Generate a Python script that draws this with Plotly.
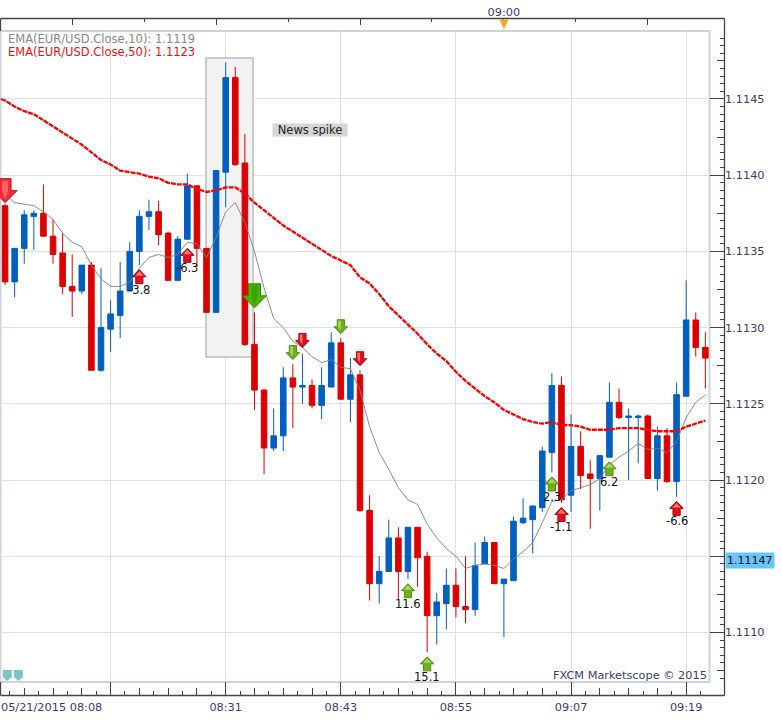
import plotly.graph_objects as go

WIDTH = 782
HEIGHT = 720

# one candle per minute, 0 is 08:08
minutes = list(range(74))

opens = [
    1.11380, 1.11330, 1.11352, 1.11373, 1.11375, 1.11360, 1.11349, 1.11327, 1.11324, 1.11341,
    1.11272, 1.11299, 1.11308, 1.11324, 1.11350, 1.11373, 1.11376, 1.11362, 1.11331, 1.11358,
    1.11393, 1.11352, 1.11310, 1.11402, 1.11464, 1.11408, 1.11289, 1.11259, 1.11221, 1.11229,
    1.11267, 1.11261, 1.11262, 1.11249, 1.11261, 1.11290, 1.11253, 1.11269, 1.11180, 1.11132,
    1.11140, 1.11162, 1.11140, 1.11169, 1.11150, 1.11111, 1.11119, 1.11131, 1.11117, 1.11115,
    1.11145, 1.11159, 1.11132, 1.11134, 1.11172, 1.11174, 1.11182, 1.11218, 1.11262, 1.11190,
    1.11222, 1.11204, 1.11201, 1.11215, 1.11251, 1.11241, 1.11241, 1.11242, 1.11201, 1.11229,
    1.11199, 1.11255, 1.11305, 1.11287,
]
highs = [
    1.11381, 1.11352, 1.11377, 1.11377, 1.11394, 1.11371, 1.11362, 1.11348, 1.11341, 1.11343,
    1.11339, 1.11318, 1.11343, 1.11356, 1.11377, 1.11384, 1.11383, 1.11363, 1.11360, 1.11401,
    1.11393, 1.11352, 1.11403, 1.11474, 1.11471, 1.11427, 1.11310, 1.11260, 1.11247, 1.11274,
    1.11276, 1.11283, 1.11266, 1.11274, 1.11297, 1.11293, 1.11280, 1.11272, 1.11190, 1.11150,
    1.11174, 1.11169, 1.11169, 1.11169, 1.11153, 1.11126, 1.11142, 1.11142, 1.11150, 1.11159,
    1.11163, 1.11159, 1.11135, 1.11176, 1.11188, 1.11183, 1.11222, 1.11270, 1.11268, 1.11243,
    1.11232, 1.11213, 1.11216, 1.11264, 1.11260, 1.11247, 1.11243, 1.11243, 1.11235, 1.11234,
    1.11264, 1.11331, 1.11310, 1.11297,
]
lows = [
    1.11328, 1.11320, 1.11342, 1.11351, 1.11360, 1.11342, 1.11322, 1.11307, 1.11322, 1.11272,
    1.11271, 1.11284, 1.11293, 1.11324, 1.11341, 1.11364, 1.11354, 1.11331, 1.11331, 1.11358,
    1.11340, 1.11310, 1.11310, 1.11379, 1.11406, 1.11288, 1.11246, 1.11204, 1.11219, 1.11219,
    1.11234, 1.11250, 1.11247, 1.11240, 1.11261, 1.11253, 1.11238, 1.11179, 1.11121, 1.11119,
    1.11140, 1.11121, 1.11135, 1.11130, 1.11087, 1.11092, 1.11102, 1.11110, 1.11106, 1.11111,
    1.11145, 1.11132, 1.11097, 1.11134, 1.11171, 1.11152, 1.11179, 1.11205, 1.11185, 1.11179,
    1.11194, 1.11168, 1.11180, 1.11215, 1.11240, 1.11200, 1.11211, 1.11201, 1.11193, 1.11198,
    1.11189, 1.11255, 1.11281, 1.11260,
]
closes = [
    1.11330, 1.11352, 1.11374, 1.11375, 1.11360, 1.11348, 1.11327, 1.11324, 1.11341, 1.11272,
    1.11300, 1.11309, 1.11324, 1.11350, 1.11373, 1.11376, 1.11361, 1.11331, 1.11358, 1.11393,
    1.11352, 1.11310, 1.11403, 1.11464, 1.11407, 1.11289, 1.11259, 1.11221, 1.11229, 1.11267,
    1.11261, 1.11262, 1.11249, 1.11262, 1.11290, 1.11253, 1.11269, 1.11180, 1.11132, 1.11140,
    1.11162, 1.11140, 1.11169, 1.11149, 1.11111, 1.11120, 1.11131, 1.11117, 1.11115, 1.11144,
    1.11159, 1.11132, 1.11135, 1.11173, 1.11175, 1.11183, 1.11219, 1.11262, 1.11187, 1.11222,
    1.11203, 1.11201, 1.11216, 1.11251, 1.11241, 1.11242, 1.11242, 1.11201, 1.11229, 1.11199,
    1.11256, 1.11305, 1.11287, 1.11280,
]

# EMA 50 has one extra point before the first candle, it runs off the left edge
ema50_x = [-1] + minutes
ema50 = [
    1.11451, 1.11449, 1.11445, 1.11442, 1.11440, 1.11436, 1.11432, 1.11428, 1.11424, 1.11420,
    1.11415, 1.11410, 1.11407, 1.11403, 1.11402, 1.11401, 1.11399, 1.11398, 1.11395, 1.11394,
    1.11394, 1.11391, 1.11389, 1.11390, 1.11392, 1.11392, 1.11388, 1.11382, 1.11377, 1.11372,
    1.11367, 1.11363, 1.11359, 1.11355, 1.11351, 1.11347, 1.11344, 1.11341, 1.11333, 1.11329,
    1.11322, 1.11314, 1.11308, 1.11302, 1.11296, 1.11289, 1.11283, 1.11278, 1.11271, 1.11265,
    1.11260, 1.11255, 1.11251, 1.11246, 1.11243, 1.11240, 1.11238, 1.11237, 1.11238, 1.11236,
    1.11236, 1.11235, 1.11233, 1.11233, 1.11233, 1.11234, 1.11234, 1.11234, 1.11233, 1.11232,
    1.11232, 1.11232, 1.11235, 1.11237, 1.11239,
]
ema10 = [
    1.11387, 1.11382, 1.11381, 1.11380, 1.11376, 1.11371, 1.11362, 1.11356, 1.11353, 1.11341,
    1.11332, 1.11327, 1.11327, 1.11330, 1.11339, 1.11346, 1.11348, 1.11346, 1.11348, 1.11356,
    1.11355, 1.11346, 1.11359, 1.11376, 1.11382, 1.11369, 1.11350, 1.11326, 1.11306, 1.11300,
    1.11291, 1.11287, 1.11281, 1.11277, 1.11279, 1.11274, 1.11273, 1.11259, 1.11235, 1.11218,
    1.11207, 1.11195, 1.11187, 1.11184, 1.11171, 1.11162, 1.11155, 1.11150, 1.11142, 1.11144,
    1.11145, 1.11144, 1.11142, 1.11148, 1.11153, 1.11159, 1.11172, 1.11186, 1.11187, 1.11193,
    1.11195, 1.11197, 1.11201, 1.11210, 1.11215, 1.11219, 1.11224, 1.11220, 1.11221, 1.11218,
    1.11225, 1.11241, 1.11251, 1.11256,
]

# trade arrows: candle, price at the tip, direction, colour, size, text under the tail
signal_x = [0, 26, 14, 19, 30, 31, 35, 37, 42, 44, 57, 58, 63, 70]
signal_price = [
    1.11382, 1.11313, 1.11338, 1.11352, 1.11279, 1.11287, 1.11296,
    1.11275, 1.11132, 1.11084, 1.11202, 1.11182, 1.11212, 1.11186,
]
signal_dir = ["down", "down", "up", "up", "down", "down", "down", "down", "up", "up", "up", "up", "up", "up"]
signal_col = ["red", "green", "red", "red", "green", "red", "green", "red", "green", "green", "green", "red", "green", "red"]
signal_big = [True, True] + [False] * 12
signal_text = ["", "", "-3.8", "-6.3", "", "", "", "", "11.6", "15.1", "2.3", "-1.1", "6.2", "-6.6"]

x_range = [-0.527, 73.38]
y_range = [1.110675, 1.114946]

major_x = [11, 23, 35, 47, 59, 71]
major_labels = ["", "08:31", "08:43", "08:55", "09:07", "09:19"]
top_x = [7, 22, 37, 52, 67]
top_labels = ["", "", "", "09:00", ""]
# 1.1115 has no text, the last price box sits over it
price_ticks = [1.1110, 1.1115, 1.1120, 1.1125, 1.1130, 1.1135, 1.1140, 1.1145]
price_labels = ["1.1110", "", "1.1120", "1.1125", "1.1130", "1.1135", "1.1140", "1.1145"]

BLUE = "#005FBF"
RED = "#DD0000"
INK = "#444444"
LABEL = "#3C3C70"
FONT = "DejaVu Sans"
# outline, body, inner part
COLOURS = {
    ("red", True): ("#D0101A", "#F02A34", "#F76468"),
    ("green", True): ("#2F8A00", "#4CB400", "#34A400"),
    ("red", False): ("#B8000C", "#DC1020", "#F07868"),
    ("green", False): ("#4F8F10", "#70B020", "#A6D860"),
}


def px(x):
    return x / WIDTH


def py(y):
    return 1 - y / HEIGHT


def arrow_shapes(x, price, direction, colour, big):
    """Block arrow as two pixel sized paths hanging off the tip position."""
    h, hw, sw, hh = (24, 12, 6, 12) if big else (14, 6.7, 3.6, 7)
    sign = -1 if direction == "up" else 1
    pts = [(0, 0), (hw, hh), (sw, hh), (sw, h), (-sw, h), (-sw, hh), (-hw, hh)]
    if big:
        inner = [(0, 3), (-sw + 3, hh), (-sw + 3, h - 2), (sw - 3, h - 2), (sw - 3, hh)]
    elif direction == "up":
        inner = [(0, 1.5), (-hw + 2.5, hh - 1), (hw - 2.5, hh - 1)]
    else:
        inner = [(0, 3), (-sw + 1, hh), (-sw + 1, h - 1), (0, h - 1)]
    edge, fill, shine = COLOURS[(colour, big)]
    shapes = []
    for poly, fc, lw in ((pts, fill, 1), (inner, shine, 0)):
        # path y runs upward from the anchor
        path = "M" + "L".join(f"{a},{sign * b}" for a, b in poly) + "Z"
        shapes.append(dict(
            type="path", path=path, xref="x", yref="y",
            xsizemode="pixel", ysizemode="pixel", xanchor=x, yanchor=price,
            fillcolor=fc, line=dict(color=edge, width=lw), layer="above",
        ))
    return shapes


fig = go.Figure()

fig.add_trace(go.Candlestick(
    x=minutes, open=opens, high=highs, low=lows, close=closes,
    increasing=dict(line=dict(color=BLUE, width=1), fillcolor=BLUE),
    decreasing=dict(line=dict(color=RED, width=1), fillcolor=RED),
    whiskerwidth=0, hoverinfo="skip", showlegend=False,
))
fig.add_trace(go.Scatter(
    x=minutes, y=ema10, mode="lines", line=dict(color="#808080", width=0.9),
    hoverinfo="skip", showlegend=False,
))
fig.add_trace(go.Scatter(
    x=ema50_x, y=ema50, mode="lines", line=dict(color="#FF0000", width=2.3, dash="5px,1px"),
    hoverinfo="skip", showlegend=False,
))
# empty traces so the extra tick axes get drawn
fig.add_trace(go.Scatter(x=[52], y=[1.112], xaxis="x2", mode="none", hoverinfo="skip", showlegend=False))
fig.add_trace(go.Scatter(x=[52], y=[1.112], xaxis="x3", mode="none", hoverinfo="skip", showlegend=False))
fig.add_trace(go.Scatter(x=[52], y=[1.112], yaxis="y2", mode="none", hoverinfo="skip", showlegend=False))

shapes = [
    # plot panel border
    dict(type="rect", xref="paper", yref="paper", x0=px(0.5), x1=px(709.5), y0=py(682), y1=py(31),
         line=dict(color="#CDD3DC", width=2), layer="below"),
    # news box
    dict(type="rect", xref="x", yref="y", x0=20.95, x1=25.85, y0=1.112807, y1=1.114769,
         fillcolor="#F2F2F2", line=dict(color="#BDBDBD", width=1.5), layer="between"),
]
# dark frame, open on the left between the panel corners
for x0, y0, x1, y1 in [(0.5, 18.5, 724.5, 18.5), (724.5, 18.5, 724.5, 695.5), (0.5, 695.5, 724.5, 695.5),
                       (0.5, 18.5, 0.5, 31), (0.5, 682, 0.5, 695.5)]:
    shapes.append(dict(type="line", xref="paper", yref="paper", x0=px(x0), x1=px(x1), y0=py(y0), y1=py(y1),
                       line=dict(color=INK, width=1.3), layer="above"))
for i in range(len(signal_x)):
    shapes += arrow_shapes(signal_x[i], signal_price[i], signal_dir[i], signal_col[i], signal_big[i])
# bookmarks in the corner
for x in [0.23, 1.38]:
    shapes.append(dict(type="path", path="M-4.5,11L4.5,11L4.5,4L0,0L-4.5,4Z", xref="x", yref="paper",
                       xsizemode="pixel", ysizemode="pixel", xanchor=x, yanchor=py(681),
                       fillcolor="#7CC4C4", line=dict(width=0), layer="above"))
# 09:00 marker on the top axis
shapes.append(dict(type="path", path="M-4.5,0L4.5,0L0,-10Z", xref="x", yref="paper",
                   xsizemode="pixel", ysizemode="pixel", xanchor=52, yanchor=py(19.5),
                   fillcolor="#F5A623", line=dict(width=0), layer="above"))

annotations = []
for i, text in enumerate(signal_text):
    if text:
        annotations.append(dict(x=signal_x[i], y=signal_price[i], text=text, showarrow=False, yanchor="middle",
                                yshift=-20, font=dict(family=FONT, size=11.5, color="#111111")))
annotations += [
    dict(xref="paper", yref="paper", x=px(6), y=py(39), text="EMA(EUR/USD.Close,10): 1.1119", showarrow=False,
         xanchor="left", yanchor="middle", font=dict(family=FONT, size=11.5, color="#888888")),
    dict(xref="paper", yref="paper", x=px(6), y=py(52), text="EMA(EUR/USD.Close,50): 1.1123", showarrow=False,
         xanchor="left", yanchor="middle", font=dict(family=FONT, size=11.5, color="#EE1111")),
    dict(x=31.8, y=1.114297, text="News spike", showarrow=False, bgcolor="#D6D6D6", borderpad=0,
         width=74, height=12, font=dict(family=FONT, size=11.5, color="#222222")),
    dict(xref="paper", yref="paper", x=px(709), y=py(675), text="FXCM Marketscope © 2015", showarrow=False,
         xanchor="right", yanchor="middle", font=dict(family=FONT, size=11.3, color=LABEL)),
    dict(xref="paper", yref="paper", x=px(-1), y=py(707), text="05/21/2015 08:08", showarrow=False,
         xanchor="left", yanchor="middle", font=dict(family=FONT, size=11.3, color=LABEL)),
    dict(xref="paper", y=1.11147, x=px(725), yref="y", text="1.11147", showarrow=False, xanchor="left",
         yanchor="middle", bgcolor="#66C7FF", borderpad=1, font=dict(family=FONT, size=11, color="#111111")),
]

tick_font = dict(family=FONT, size=11.3, color=LABEL)
panel = [0, 709 / WIDTH]
rows = [py(682), py(31)]

fig.update_layout(
    width=WIDTH, height=HEIGHT, margin=dict(l=0, r=0, t=0, b=0),
    paper_bgcolor="white", plot_bgcolor="white", showlegend=False, dragmode=False,
    boxgap=0.42, boxgroupgap=0,
    shapes=shapes, annotations=annotations,
    xaxis=dict(
        domain=panel, range=x_range, anchor="free", position=py(695), side="bottom",
        rangeslider=dict(visible=False), tickmode="array", tickvals=major_x, ticktext=major_labels,
        ticks="inside", ticklen=13, tickcolor=INK, tickwidth=1, tickfont=tick_font, ticklabelstandoff=4,
        showgrid=True, gridcolor="#E0E0E0", gridwidth=1.4, zeroline=False, showline=False,
        minor=dict(tickmode="linear", tick0=11, dtick=1.5, ticks="inside", ticklen=4, tickcolor=INK, showgrid=False),
    ),
    xaxis2=dict(
        domain=panel, range=x_range, overlaying="x", anchor="free", position=py(18), side="top",
        tickmode="array", tickvals=top_x, ticktext=top_labels, ticks="inside", ticklen=6, tickcolor=INK,
        tickfont=tick_font, showgrid=False, zeroline=False, showline=False,
        minor=dict(tickmode="linear", tick0=7, dtick=7.5, ticks="inside", ticklen=3, tickcolor=INK, showgrid=False),
    ),
    xaxis3=dict(
        domain=panel, range=x_range, overlaying="x", anchor="free", position=py(695), side="bottom",
        tickmode="linear", tick0=11, dtick=3, ticks="inside", ticklen=7, tickcolor=INK,
        showticklabels=False, showgrid=False, zeroline=False, showline=False,
    ),
    yaxis=dict(
        domain=rows, range=y_range, anchor="free", position=724 / WIDTH, side="right",
        tickmode="array", tickvals=price_ticks, ticktext=price_labels, ticks="inside", ticklen=14,
        tickcolor=INK, tickfont=tick_font, showgrid=True, gridcolor="#E0E0E0", gridwidth=1.4,
        zeroline=False, showline=False,
        minor=dict(tickmode="linear", tick0=1.1110, dtick=0.00005, ticks="inside", ticklen=4.5,
                   tickcolor=INK, showgrid=False),
    ),
    yaxis2=dict(
        domain=rows, range=y_range, overlaying="y", anchor="free", position=724 / WIDTH, side="right",
        tickmode="linear", tick0=1.1110, dtick=0.00025, ticks="inside", ticklen=7.5, tickcolor=INK,
        showticklabels=False, showgrid=False, zeroline=False, showline=False,
    ),
)

fig.write_html("out.html", config=dict(displayModeBar=False), post_script="document.body.style.margin='0';")
